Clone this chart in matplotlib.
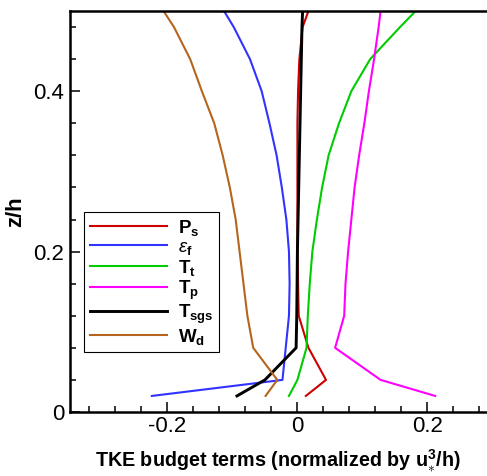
import matplotlib
matplotlib.use("Agg")
import matplotlib.pyplot as plt
from matplotlib.ticker import MultipleLocator, FuncFormatter

plt.rcParams['font.family'] = ['Liberation Sans', 'DejaVu Sans']
plt.rcParams['mathtext.fontset'] = 'custom'
plt.rcParams['mathtext.rm'] = 'Liberation Sans'
plt.rcParams['mathtext.bf'] = 'Liberation Sans:bold'
plt.rcParams['mathtext.it'] = 'Liberation Sans:italic'

# heights (z/h) where the profiles were read
z = [0.02, 0.04, 0.08, 0.12, 0.16, 0.2, 0.24, 0.28, 0.32, 0.36, 0.4, 0.44, 0.48, 0.5]

# TKE budget terms, normalized by u*^3/h
P_s = [0.013, 0.044, 0.017, 0.002, 0.001, 0.0, 0.0, 0.0, 0.0, 0.0, 0.001, 0.003, 0.008, 0.017]
eps_f = [-0.224, -0.023, -0.018, -0.013, -0.012, -0.013, -0.017, -0.024, -0.032, -0.043,
         -0.055, -0.073, -0.098, -0.113]
T_t = [-0.013, 0.0, 0.014, 0.016, 0.019, 0.023, 0.030, 0.038, 0.048, 0.064,
       0.083, 0.112, 0.158, 0.182]
T_p = [0.212, 0.128, 0.058, 0.072, 0.074, 0.078, 0.083, 0.088, 0.095, 0.103,
       0.110, 0.118, 0.125, 0.128]
T_sgs = [-0.093, -0.050, -0.002, -0.001, -0.0005, 0.0, 0.001, 0.002, 0.003, 0.004,
         0.005, 0.006, 0.007, 0.008]
W_d = [-0.049, -0.031, -0.068, -0.077, -0.083, -0.089, -0.095, -0.104, -0.115, -0.128,
       -0.147, -0.165, -0.190, -0.206]

labels = [r'$\mathbf{P_s}$', r'$\varepsilon_\mathbf{f}$', r'$\mathbf{T_t}$',
          r'$\mathbf{T_p}$', r'$\mathbf{T_{sgs}}$', r'$\mathbf{W_d}$']

fig = plt.figure(figsize=(4.87, 4.76), dpi=100)
ax = fig.add_axes([0.1437, 0.1345, 0.934, 0.8424])

ax.plot(P_s, z, color='#cc0000', lw=1.5, label=labels[0])
ax.plot(eps_f, z, color='#3333ff', lw=1.5, label=labels[1])
ax.plot(T_t, z, color='#00cc00', lw=1.5, label=labels[2])
ax.plot(T_p, z, color='#ff00ff', lw=1.5, label=labels[3])
ax.plot(T_sgs, z, color='black', lw=2.1, label=labels[4])
ax.plot(W_d, z, color='#b5651d', lw=1.5, label=labels[5])

ax.set_xlim(-0.35, 0.35)
ax.set_ylim(0, 0.5)

ax.xaxis.set_major_locator(MultipleLocator(0.2))
ax.xaxis.set_minor_locator(MultipleLocator(0.04))
ax.yaxis.set_major_locator(MultipleLocator(0.2))
ax.yaxis.set_minor_locator(MultipleLocator(0.04))
fmt = FuncFormatter(lambda v, p: '%g' % round(v, 3))
ax.xaxis.set_major_formatter(fmt)
ax.yaxis.set_major_formatter(fmt)

ax.tick_params(which='both', direction='in', top=False, right=False, width=1.1)
ax.tick_params(which='major', length=7, labelsize=16)
ax.tick_params(which='minor', length=4.5)
ax.tick_params(axis='x', pad=3)
ax.tick_params(axis='y', pad=4)
for s in ax.spines.values():
    s.set_linewidth(1.8)

ax.set_xlabel(r'TKE budget terms (normalized by u$_{\ast}^{\mathbf{3}}$/h)',
              fontsize=14.2, fontweight='bold')
ax.xaxis.set_label_coords(0.457, -0.09)
ax.xaxis.label.set_verticalalignment('top')
ax.set_ylabel('z/h', fontsize=16, fontweight='bold', labelpad=5)

leg = ax.legend(loc='upper left', bbox_to_anchor=(0.031, 0.499), borderaxespad=0,
                fancybox=False, framealpha=1, edgecolor='black', fontsize=13.5,
                handlelength=4.1, handletextpad=0.6, labelspacing=0.05,
                borderpad=0.3)
leg.get_frame().set_linewidth(0.8)

fig.savefig('out.png', dpi=100)
